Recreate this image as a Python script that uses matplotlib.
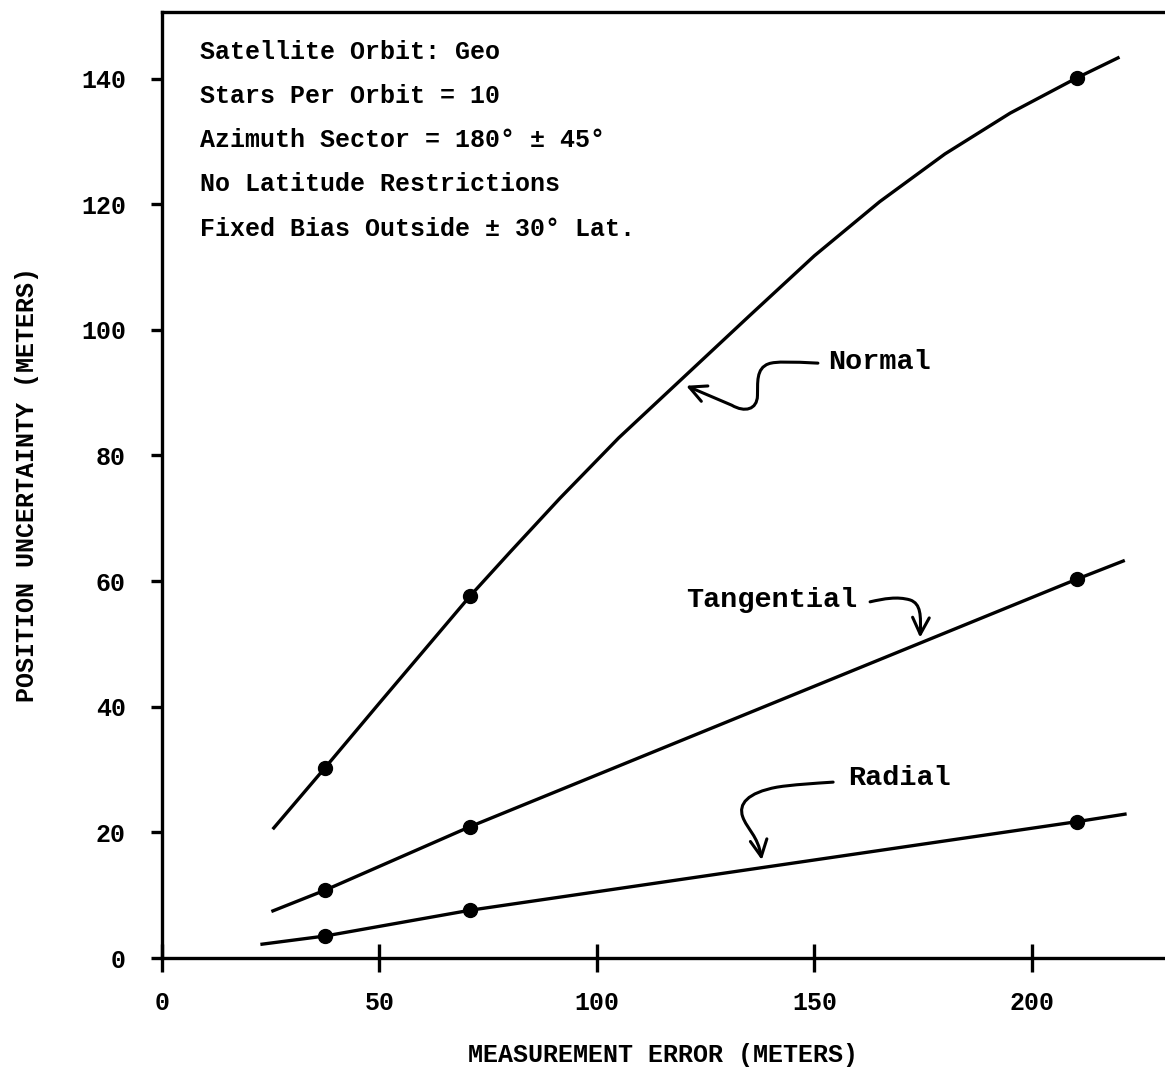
import matplotlib
matplotlib.use('Agg')
import matplotlib.pyplot as plt
from matplotlib.path import Path
from matplotlib.patches import FancyArrowPatch

# measured points (dots)
meas_x = [37.5, 70.8, 210.3]
normal_y = [30.3, 57.6, 140.1]
tangential_y = [10.8, 20.9, 60.3]
radial_y = [3.5, 7.6, 21.7]

# faired curves
normal_cx = [25.7, 37.5, 50, 70.8, 80, 91.5, 105, 120, 135, 150, 165, 180, 195, 210.3, 219.8]
normal_cy = [20.7, 30.3, 40.6, 57.6, 64.6, 73.2, 82.8, 92.5, 102.2, 111.8, 120.4, 128, 134.5, 140.1, 143.3]
tangential_cx = [25.5, 37.5, 70.8, 210.3, 221.0]
tangential_cy = [7.5, 10.8, 20.9, 60.3, 63.2]
radial_cx = [23.0, 37.5, 70.8, 210.3, 221.4]
radial_cy = [2.2, 3.5, 7.6, 21.7, 22.9]

xticks = [0, 50, 100, 150, 200]
yticks = [0, 20, 40, 60, 80, 100, 120, 140]

info = ['Satellite Orbit: Geo',
        'Stars Per Orbit = 10',
        'Azimuth Sector = 180° ± 45°',
        'No Latitude Restrictions',
        'Fixed Bias Outside ± 30° Lat.']

plt.rcParams['font.family'] = ['Liberation Mono', 'DejaVu Sans Mono']
plt.rcParams['font.size'] = 18
plt.rcParams['font.weight'] = 'bold'
plt.rcParams['axes.labelweight'] = 'bold'

fig = plt.figure(figsize=(11.65, 10.74), dpi=100)
ax = fig.add_axes([162/1165, 116/1074, 1 - 162/1165, (958 - 12)/1074])

lw = 2.4
ax.plot(normal_cx, normal_cy, color='black', lw=lw)
ax.plot(tangential_cx, tangential_cy, color='black', lw=lw)
ax.plot(radial_cx, radial_cy, color='black', lw=lw)
for ys in (normal_y, tangential_y, radial_y):
    ax.plot(meas_x, ys, 'o', color='black', ms=10)

ax.set_xlim(0, 230.6)
ax.set_ylim(0, 150.6)
ax.set_xticks(xticks)
ax.set_yticks(yticks)
ax.spines['right'].set_visible(False)
for s in ('left', 'bottom', 'top'):
    ax.spines[s].set_linewidth(2.4)
ax.tick_params(axis='y', direction='out', length=8, width=2.4, pad=18)
ax.tick_params(axis='x', direction='inout', length=20, width=2.4, pad=14)

ax.set_xlabel('MEASUREMENT ERROR (METERS)', labelpad=20)
ax.set_ylabel('POSITION UNCERTAINTY (METERS)', labelpad=30)

for i, line in enumerate(info):
    ax.text(8.7, 144.3 - 7.05 * i, line, va='center', ha='left')

ax.text(153.1, 94.9, 'Normal', va='center', ha='left', fontsize=20.5)
ax.text(120.5, 57.0, 'Tangential', va='center', ha='left', fontsize=20.5)
ax.text(157.7, 28.7, 'Radial', va='center', ha='left', fontsize=20.5)

C, M, L = Path.CURVE4, Path.MOVETO, Path.LINETO
arrows = [
    ([(150.8, 94.7), (145, 94.9), (141, 95.0), (139.5, 94.6),
      (136.5, 93.9), (137, 91.5), (136.9, 89.5),
      (136.8, 87.3), (134, 86.8), (131, 88.0), (120.5, 91.1)],
     [M, C, C, C, C, C, C, C, C, C, L]),
    ([(162.8, 56.7), (166, 57.2), (169, 57.6), (172, 57.0),
      (174.5, 56.4), (174.5, 54.5), (174.3, 51.0)],
     [M, C, C, C, C, C, C]),
    ([(154.3, 28.0), (150, 27.8), (145, 27.6), (141.4, 27.2),
      (134.5, 26.3), (132.5, 24.5), (133.5, 22.5),
      (134.5, 20.5), (137, 19.5), (137.9, 15.6)],
     [M, C, C, C, C, C, C, C, C, C]),
]
for verts, codes in arrows:
    p = FancyArrowPatch(path=Path(verts, codes), arrowstyle='->,head_length=0.6,head_width=0.3',
                        mutation_scale=20, lw=2.2, color='black')
    ax.add_patch(p)

fig.savefig('out.png', dpi=100)
